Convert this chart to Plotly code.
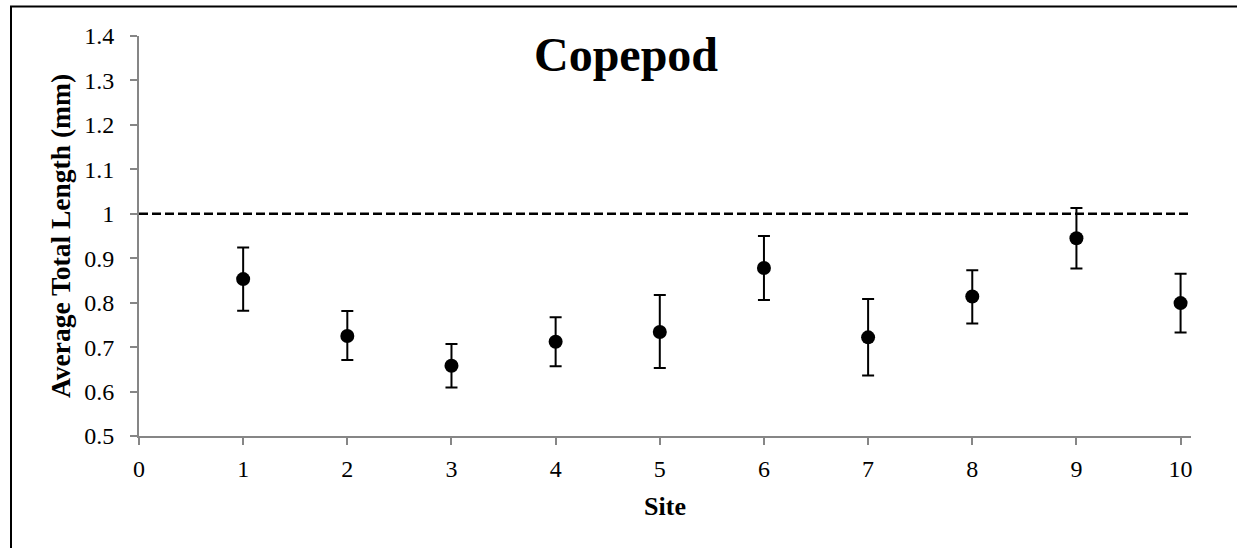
import plotly.graph_objects as go

# ---- data ----
sites = [1, 2, 3, 4, 5, 6, 7, 8, 9, 10]
mean_length = [0.853, 0.725, 0.658, 0.712, 0.734, 0.878, 0.722, 0.814, 0.945, 0.799]
err_upper = [0.924, 0.781, 0.707, 0.767, 0.817, 0.950, 0.808, 0.873, 1.013, 0.865]
err_lower = [0.782, 0.671, 0.609, 0.657, 0.653, 0.806, 0.636, 0.753, 0.877, 0.733]
reference_x = [0, 10.1]
reference_y = [1.0, 1.0]
x_ticks = [0, 1, 2, 3, 4, 5, 6, 7, 8, 9, 10]
y_ticks = [0.5, 0.6, 0.7, 0.8, 0.9, 1.0, 1.1, 1.2, 1.3, 1.4]
y_tick_text = ["0.5", "0.6", "0.7", "0.8", "0.9", "1", "1.1", "1.2", "1.3", "1.4"]

plus = [u - m for u, m in zip(err_upper, mean_length)]
minus = [m - l for m, l in zip(mean_length, err_lower)]

FONT = "Liberation Serif, Times New Roman, serif"
AXIS_COLOR = "#868686"

W, H = 1237, 548
L, R, T, B = 139, 46, 35.5, 112
PW, PH = W - L - R, H - T - B

fig = go.Figure()
fig.add_trace(go.Scatter(
    x=reference_x, y=reference_y, mode="lines",
    line=dict(color="black", width=2.5, dash="9px,4px"),
    hoverinfo="skip", showlegend=False, cliponaxis=False,
))
fig.add_trace(go.Scatter(
    x=sites, y=mean_length, mode="markers",
    marker=dict(color="black", size=14),
    error_y=dict(type="data", symmetric=False, array=plus, arrayminus=minus,
                 color="black", thickness=2, width=6),
    showlegend=False,
))

def px_to_paper_x(px):
    return (px - L) / PW

def px_to_paper_y(py):
    return (H - B - py) / PH

# outer border (left and top edges visible, extends off the image right/bottom)
fig.add_shape(type="rect", xref="paper", yref="paper",
              x0=px_to_paper_x(11), x1=px_to_paper_x(W + 10),
              y0=px_to_paper_y(H + 10), y1=px_to_paper_y(6),
              line=dict(color="black", width=2), fillcolor="rgba(0,0,0,0)", layer="above")

fig.update_layout(
    width=W, height=H,
    margin=dict(l=L, r=R, t=T, b=B, pad=0),
    paper_bgcolor="white", plot_bgcolor="white",
    font=dict(family=FONT, color="black"),
    title=dict(text="<b>Copepod</b>", font=dict(family=FONT, size=48, color="black"),
               x=626 / W, xanchor="center", xref="container",
               y=1 - 54 / H, yanchor="middle", yref="container"),
    xaxis=dict(
        range=[0, 10.1], tickvals=x_ticks, ticks="outside", ticklen=7, tickwidth=1.5,
        tickcolor=AXIS_COLOR, showline=True, linecolor=AXIS_COLOR, linewidth=1.8,
        showgrid=False, zeroline=False, tickfont=dict(family=FONT, size=24, color="black"),
        ticklabelstandoff=3,
        title=dict(text="<b>Site</b>", font=dict(family=FONT, size=26, color="black"), standoff=16),
    ),
    yaxis=dict(
        range=[0.5, 1.4], tickvals=y_ticks, ticktext=y_tick_text, ticks="outside", ticklen=7,
        tickwidth=1.5, tickcolor=AXIS_COLOR, showline=True, linecolor=AXIS_COLOR, linewidth=1.8,
        showgrid=False, zeroline=False, tickfont=dict(family=FONT, size=24, color="black"),
        ticklabelstandoff=11,
        title=dict(text="<b>Average Total Length (mm)</b>", font=dict(family=FONT, size=27.5, color="black"),
                   standoff=6),
    ),
)

fig.write_html("out.html")
